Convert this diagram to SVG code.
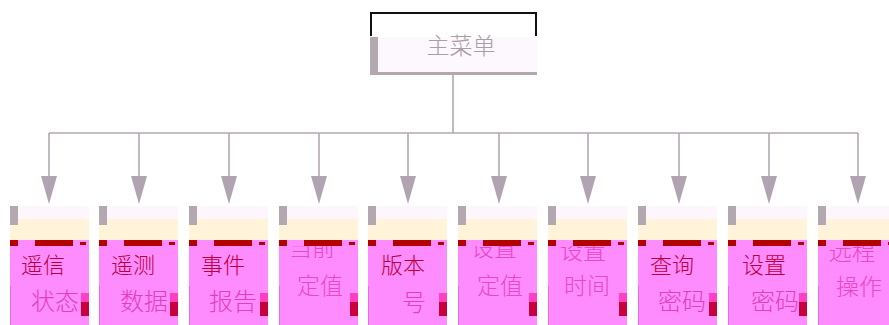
<svg xmlns="http://www.w3.org/2000/svg" xmlns:xlink="http://www.w3.org/1999/xlink" width="889" height="325" viewBox="0 0 889 325">
<style>
text{font-family:"Noto Sans CJK SC","Noto Sans",sans-serif;text-anchor:middle;font-weight:300}
.t1{font-size:22px;fill:#b8003c}
.t2{font-size:24px;fill:#e040b8}
.tp{font-size:23px;fill:#e848c0}
.main{font-size:23px;fill:#a89ea8}
.wire{stroke:#b4a8b4;stroke-width:1.6;fill:none}
.head{fill:#b0a4b0}
</style>
<defs>
<g id="body">
<rect x="0" y="0" width="79" height="119" fill="#ff8cff"/>
<rect x="71" y="47" width="8" height="9" fill="#ff40c0"/>
<rect x="71" y="56" width="8" height="14" fill="#c8003c"/>
<rect x="2" y="90" width="6" height="30" fill="#ff40c0"/>
<rect x="0" y="40" width="1" height="79" fill="#e070e0"/>
</g>
<g id="top">
<rect x="0" y="0" width="79" height="13" fill="#fdf6fd"/>
<rect x="0" y="13" width="79" height="21" fill="#fff4da"/>
<rect x="0" y="0" width="8" height="19" fill="#b4a8b0"/>
<rect x="0" y="34" width="79" height="6" fill="#ff8cff"/>
<rect x="0" y="34" width="8" height="6" fill="#b30000"/>
<rect x="25" y="34" width="38" height="6" fill="#b30000"/>
<rect x="70" y="36" width="6" height="3" fill="#b30000"/>
</g>
<path id="arrow" d="M-8,176 L8,176 L0,204 Z"/>
</defs>

<g id="connectors">
<path class="wire" d="M453,75 V133 M49,133 H858 M49,133 V180 M139,133 V180 M229,133 V180 M319,133 V180 M408,133 V180 M499,133 V180 M588,133 V180 M679,133 V180 M769,133 V180 M858,133 V180"/>
<use xlink:href="#arrow" class="head" x="49"/>
<use xlink:href="#arrow" class="head" x="139"/>
<use xlink:href="#arrow" class="head" x="229"/>
<use xlink:href="#arrow" class="head" x="319"/>
<use xlink:href="#arrow" class="head" x="408"/>
<use xlink:href="#arrow" class="head" x="499"/>
<use xlink:href="#arrow" class="head" x="588"/>
<use xlink:href="#arrow" class="head" x="679"/>
<use xlink:href="#arrow" class="head" x="769"/>
<use xlink:href="#arrow" class="head" x="858"/>
</g>

<g id="main-menu">
<path d="M371,36 V13 H536 V36" fill="none" stroke="#111" stroke-width="2"/>
<rect x="370" y="37" width="167" height="38" fill="#b4a8b0"/>
<rect x="378" y="37" width="159" height="35" fill="#fdf8fd"/>
<text class="main" x="461" y="54">主菜单</text>
</g>

<g id="n1" transform="translate(10,206)">
<use xlink:href="#body" y="40"/>
<text class="t1" x="33" y="67">遥信</text>
<text class="t2" x="45" y="104">状态</text>
<use xlink:href="#top"/>
</g>
<g id="n2" transform="translate(99,206)">
<use xlink:href="#body" y="40"/>
<text class="t1" x="34" y="67">遥测</text>
<text class="t2" x="45" y="104">数据</text>
<use xlink:href="#top"/>
</g>
<g id="n3" transform="translate(189,206)">
<use xlink:href="#body" y="40"/>
<text class="t1" x="34" y="67">事件</text>
<text class="t2" x="44" y="104">报告</text>
<use xlink:href="#top"/>
</g>
<g id="n4" transform="translate(279,206)">
<use xlink:href="#body" y="40"/>
<text class="tp" x="33" y="50">当前</text>
<text class="tp" x="41" y="88">定值</text>
<use xlink:href="#top"/>
</g>
<g id="n5" transform="translate(368,206)">
<use xlink:href="#body" y="40"/>
<text class="t1" x="35" y="67">版本</text>
<text class="t2" x="46" y="105">号</text>
<use xlink:href="#top"/>
</g>
<g id="n6" transform="translate(458,206)">
<use xlink:href="#body" y="40"/>
<text class="tp" x="36" y="50">设置</text>
<text class="tp" x="42" y="88">定值</text>
<use xlink:href="#top"/>
</g>
<g id="n7" transform="translate(548,206)">
<use xlink:href="#body" y="40"/>
<text class="tp" x="35" y="53">设置</text>
<text class="tp" x="39" y="88">时间</text>
<use xlink:href="#top"/>
</g>
<g id="n8" transform="translate(638,206)">
<use xlink:href="#body" y="40"/>
<text class="t1" x="34" y="67">查询</text>
<text class="t2" x="44" y="104">密码</text>
<use xlink:href="#top"/>
</g>
<g id="n9" transform="translate(728,206)">
<use xlink:href="#body" y="40"/>
<text class="t1" x="36" y="67">设置</text>
<text class="t2" x="47" y="104">密码</text>
<use xlink:href="#top"/>
</g>
<g id="n10" transform="translate(818,206)">
<use xlink:href="#body" y="40"/>
<text class="tp" x="34" y="54">远程</text>
<text class="tp" x="41" y="89">操作</text>
<use xlink:href="#top"/>
</g>
</svg>
